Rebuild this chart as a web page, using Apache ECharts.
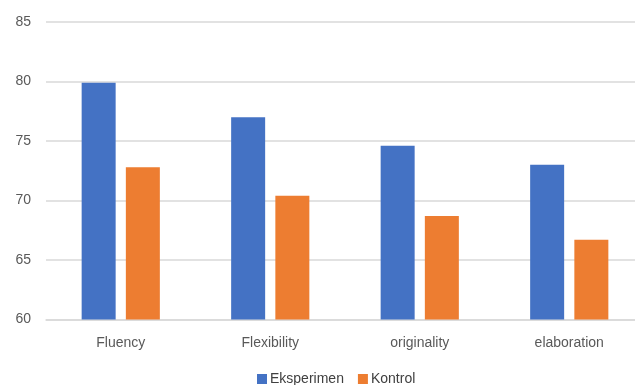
<!DOCTYPE html>
<html>
<head>
<meta charset="utf-8">
<script src="https://cdn.jsdelivr.net/npm/echarts@6/dist/echarts.min.js"></script>
<style>
  html, body { margin: 0; padding: 0; background: #ffffff; overflow: hidden; }
  #chart { width: 645px; height: 385px; }
</style>
</head>
<body>
<div id="chart"></div>
<script>
// Creativity aspects and mean scores per group
const categories = ['Fluency', 'Flexibility', 'originality', 'elaboration'];
const eksperimen = [79.9, 77.0, 74.6, 73.0];
const kontrol = [72.8, 70.4, 68.7, 66.7];
const seriesNames = ['Eksperimen', 'Kontrol'];

const FONT = '"Liberation Sans", Arial, sans-serif';
const chart = echarts.init(document.getElementById('chart'), null, { renderer: 'canvas' });

chart.setOption({
  animation: false,
  backgroundColor: '#ffffff',
  color: ['#4472C4', '#ED7D31'],
  // plot area runs slightly past the right edge of the visible page
  grid: { left: 46, top: 22, width: 598, height: 297.5, containLabel: false },
  legend: {
    data: seriesNames,
    top: 367,
    left: 252,
    itemWidth: 10,
    itemHeight: 10,
    itemGap: 14,
    icon: 'rect',
    textStyle: { fontFamily: FONT, fontSize: 14, color: '#404040', padding: [0, 0, 0, -2] }
  },
  xAxis: {
    type: 'category',
    data: categories,
    axisLine: { lineStyle: { color: '#d9d9d9', width: 1.5 } },
    axisTick: { show: false },
    axisLabel: { fontFamily: FONT, fontSize: 14, color: '#595959', margin: 17 }
  },
  yAxis: {
    type: 'value',
    min: 60,
    max: 85,
    interval: 5,
    axisLine: { show: false },
    axisTick: { show: false },
    axisLabel: { fontFamily: FONT, fontSize: 14, color: '#595959', margin: 15 },
    splitLine: { lineStyle: { color: '#d9d9d9', width: 1.5 } }
  },
  series: [
    {
      name: seriesNames[0],
      type: 'bar',
      data: eksperimen,
      barWidth: 34,
      barGap: '30%'
    },
    {
      name: seriesNames[1],
      type: 'bar',
      data: kontrol,
      barWidth: 34,
      barGap: '30%'
    }
  ]
});
</script>
</body>
</html>
